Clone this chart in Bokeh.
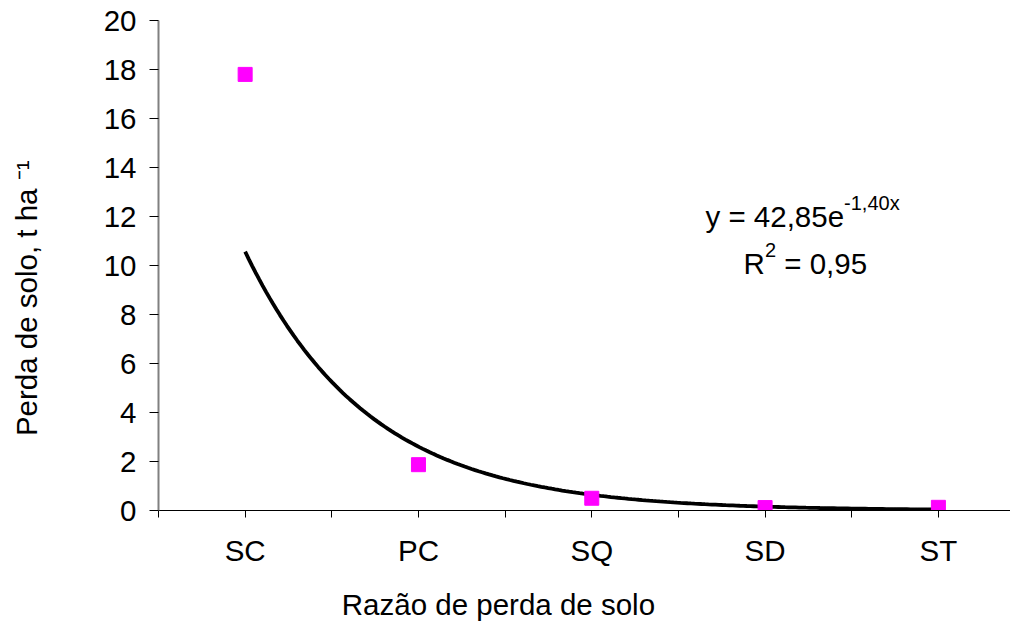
from bokeh.plotting import figure
from bokeh.models import FixedTicker, Label, Range1d
from bokeh.embed import file_html
from bokeh.resources import INLINE
import numpy as np

# ---- data ----
categories = ["SC", "PC", "SQ", "SD", "ST"]
cat_pos = [1, 2, 3, 4, 5]
soil_loss = [17.8, 1.87, 0.50, 0.12, 0.13]
fit_a = 42.85
fit_b = -1.40
r2 = 0.95
y_ticks = [0, 2, 4, 6, 8, 10, 12, 14, 16, 18, 20]

FONT = "Liberation Sans"
FS = 29.5
SUP = 20
NBSP = "\u00a0"

p = figure(width=1010, height=623, output_backend="svg", toolbar_location=None,
           x_range=Range1d(0.5, 5.416), y_range=Range1d(0, 20),
           min_border_left=158, min_border_right=0, min_border_top=20, min_border_bottom=112)
p.outline_line_color = None
p.xgrid.visible = False
p.ygrid.visible = False
p.background_fill_color = "white"
p.border_fill_color = "white"

# trend line from fitted equation
xs = np.linspace(cat_pos[0], cat_pos[-1], 200)
p.line(xs, fit_a * np.exp(fit_b * xs), line_color="black", line_width=3.8)

p.scatter(cat_pos, soil_loss, marker="square", size=14, fill_color="#FF00FF", line_color="#FF00FF")

# axes
xa = p.xaxis[0]
xa.ticker = FixedTicker(ticks=cat_pos, minor_ticks=[0.5, 1.5, 2.5, 3.5, 4.5, 5.5])
xa.major_label_overrides = {c: n for c, n in zip(cat_pos, categories)}
xa.axis_line_color = "black"
xa.axis_line_width = 1
xa.major_tick_in = 0
xa.major_tick_out = 7
xa.minor_tick_in = 0
xa.minor_tick_out = 7
xa.major_tick_line_color = "black"
xa.minor_tick_line_color = "black"
xa.major_label_text_font = FONT
xa.major_label_text_font_size = f"{FS}px"
xa.major_label_text_color = "black"
xa.major_label_standoff = 16
# x title; trailing no-break spaces shift it left like the reference
xa.axis_label = "Razão de perda de solo" + NBSP * 21
xa.axis_label_standoff = 18
xa.axis_label_text_font = FONT
xa.axis_label_text_font_size = f"{FS}px"
xa.axis_label_text_font_style = "normal"
xa.axis_label_text_color = "black"

ya = p.yaxis[0]
ya.ticker = FixedTicker(ticks=y_ticks)
ya.axis_line_color = "#808080"
ya.axis_line_width = 2
ya.major_tick_in = 0
ya.major_tick_out = 9
ya.minor_tick_out = 0
ya.major_tick_line_color = "black"
ya.major_label_text_font = FONT
ya.major_label_text_font_size = f"{FS}px"
ya.major_label_text_color = "black"
ya.major_label_standoff = 13
# y title; trailing no-break spaces shift it toward the bottom like the reference
ya.axis_label = "Perda de solo, t ha \u207b\u00b9" + NBSP * 8
ya.axis_label_standoff = 58
ya.axis_label_text_font = FONT
ya.axis_label_text_font_size = f"{FS}px"
ya.axis_label_text_font_style = "normal"
ya.axis_label_text_color = "black"

def lab(text, x, y, size, **kw):
    l = Label(x=x, y=y, text=text, text_font=FONT, text_font_size=f"{size}px",
              text_color="black", text_baseline="alphabetic", **kw)
    p.add_layout(l)
    return l

# equation
lab("y = 42,85e", 3.656, 11.98, FS)
lab("-1,40x", 3.656, 11.98, SUP, x_offset=4.698 * FS, y_offset=14)
lab("R", 3.876, 10.10, FS)
lab("2", 3.876, 10.10, SUP, x_offset=0.722 * FS, y_offset=13)
lab("= 0,95", 3.876, 10.10, FS, x_offset=0.722 * FS + 0.556 * SUP + 0.278 * FS)

open("out.html", "w").write(file_html(p, INLINE))
